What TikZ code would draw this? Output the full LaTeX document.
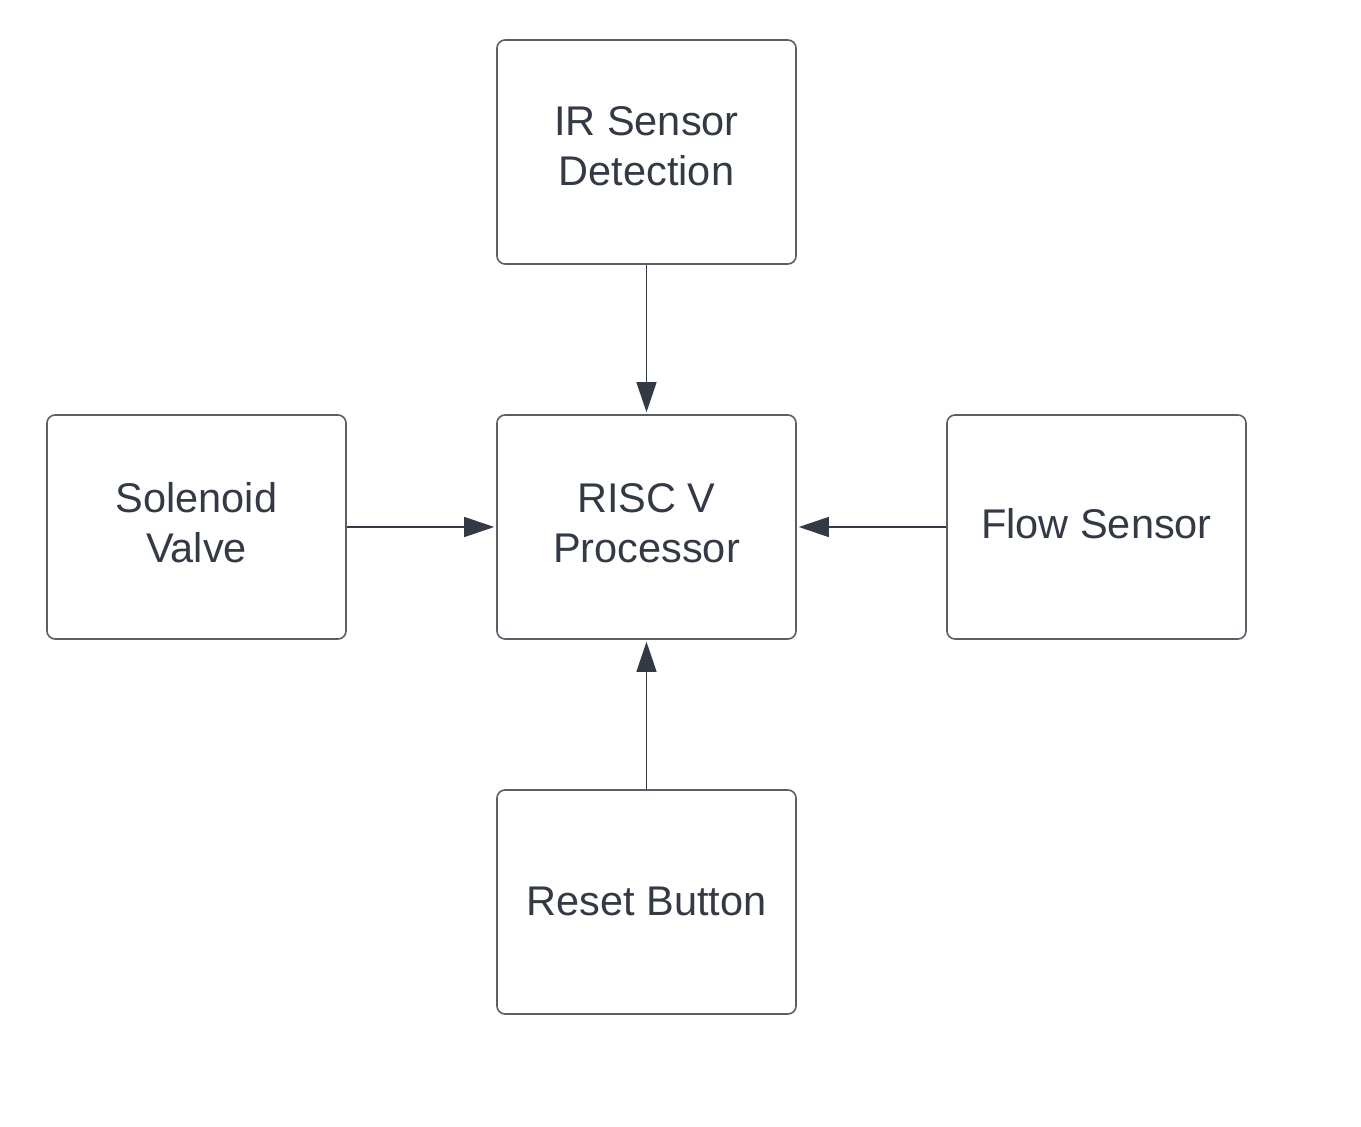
\documentclass[tikz,border=0pt]{standalone}
\usepackage{fontspec}
\setmainfont{Liberation Sans}
\usetikzlibrary{arrows.meta}
\definecolor{txt}{HTML}{343A45}
\definecolor{bord}{HTML}{5A5F67}
\begin{document}
\begin{tikzpicture}[x=1pt,y=-1pt,
  blk/.style={draw=bord, line width=1.6pt, rounded corners=8pt, minimum width=299pt, minimum height=224pt, inner sep=0pt, align=center, text=txt, font=\fontsize{41.5}{50}\selectfont, text height=30pt, text depth=9pt},
  two/.style={text height=80pt},
  conn/.style={draw=txt, line width=1.3pt, -{Triangle[length=30pt,width=20pt]}, shorten >=2pt}]
\useasboundingbox (0,0) rectangle (1361,1127);
\fill[white] (0,0) rectangle (1361,1127);
\node[blk, two, text depth=14pt] (ir) at (646.5,152) {IR Sensor\\Detection};
\node[blk, two, text depth=10pt] (cpu) at (646.5,527) {RISC V\\Processor};
\node[blk, two, text depth=10pt] (sol) at (196.5,527) {Solenoid\\Valve};
\node[blk, text depth=8pt] (flow) at (1096.5,527) {Flow Sensor};
\node[blk, text depth=4pt] (rst) at (646.5,902) {Reset Button};
\draw[conn] (ir) -- (cpu);
\draw[conn] (sol) -- (cpu);
\draw[conn] (flow) -- (cpu);
\draw[conn] (rst) -- (cpu);
\end{tikzpicture}
\end{document}
